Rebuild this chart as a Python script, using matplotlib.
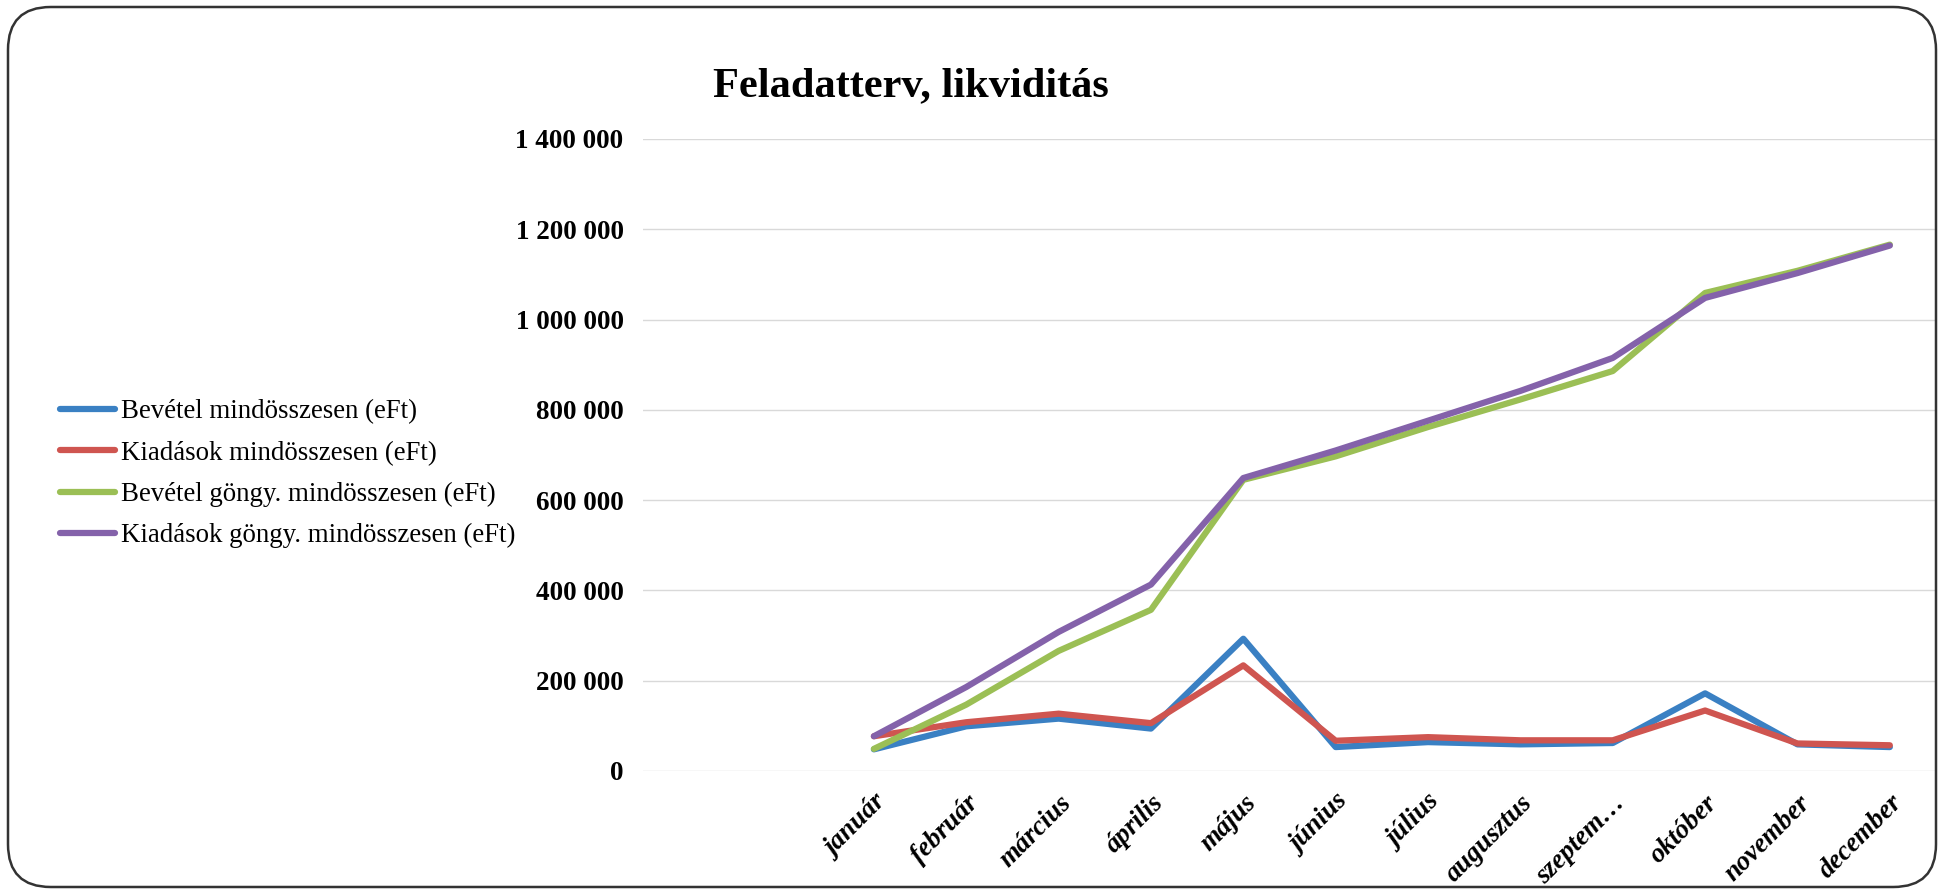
import matplotlib
matplotlib.use("Agg")
import matplotlib.pyplot as plt
from matplotlib.patches import FancyBboxPatch
from matplotlib.ticker import FuncFormatter

months = ["január", "február", "március", "április", "május", "június",
          "július", "augusztus", "szeptem…", "október", "november", "december"]

bevetel = [48000, 99000, 116000, 94000, 293000, 53000,
           64000, 59000, 62000, 172000, 59000, 53000]
kiadasok = [77000, 108000, 127000, 106000, 234000, 67000,
            75000, 68000, 68000, 134000, 61000, 57000]
bevetel_gongy = [49000, 147000, 266000, 357000, 645000, 697000,
                 762000, 823000, 886000, 1059000, 1108000, 1166000]
kiadasok_gongy = [77000, 186000, 308000, 413000, 649000, 710000,
                  776000, 842000, 915000, 1048000, 1103000, 1164000]

labels = ["Bevétel mindösszesen (eFt)", "Kiadások mindösszesen (eFt)",
          "Bevétel göngy. mindösszesen (eFt)", "Kiadások göngy. mindösszesen (eFt)"]
colors = ["#3a80c3", "#cf5550", "#9bbf55", "#8462aa"]

SERIF = "Liberation Serif"
plt.rcParams.update({"font.family": SERIF})

W, H = 1944, 894
fig = plt.figure(figsize=(W / 100, H / 100), dpi=100)

# rounded frame round the whole chart
frame = FancyBboxPatch((8 / W, 7 / H), (W - 16) / W, (H - 14) / H,
                       boxstyle="round,pad=0,rounding_size=0.022",
                       transform=fig.transFigure, fill=False,
                       ec="#333333", lw=1.8, mutation_aspect=W / H)
fig.patches.append(frame)

ax = fig.add_axes([643 / W, 1 - 771 / H, (1936 - 643) / W, (771 - 139) / H])
x = list(range(len(months)))
for ys, lab, c in zip([bevetel, kiadasok, bevetel_gongy, kiadasok_gongy],
                      labels, colors):
    ax.plot(x, ys, color=c, lw=4.5, label=lab, solid_capstyle="round",
            solid_joinstyle="round")

ax.set_xlim(-2.5, 11.5)
ax.set_ylim(0, 1400000)
ax.set_yticks(range(0, 1400001, 200000))
ax.yaxis.set_major_formatter(FuncFormatter(lambda v, p: f"{v:,.0f}".replace(",", " ")))
ax.grid(axis="y", color="#d9d9d9", lw=1.0)
ax.set_axisbelow(True)
for s in ax.spines.values():
    s.set_visible(False)
ax.tick_params(axis="y", length=0, pad=14, labelsize=19.5)
for t in ax.get_yticklabels():
    t.set_fontweight("bold")
ax.set_xticks(x)
ax.set_xticklabels(months, rotation=45, ha="right", va="top",
                   rotation_mode="anchor", fontsize=19.5, fontweight="bold",
                   fontstyle="italic")
ax.tick_params(axis="x", length=0, pad=14)

fig.text(911 / W, 1 - 86 / H, "Feladatterv, likviditás", ha="center",
         va="center", fontsize=30.5, fontweight="bold")

fig.legend(loc="center left", bbox_to_anchor=(60 / W, 1 - 474 / H),
           frameon=False, fontsize=19.4, handlelength=2.05, handletextpad=0.2,
           labelspacing=0.6, borderpad=0, borderaxespad=0)

fig.savefig("out.png", dpi=100)
